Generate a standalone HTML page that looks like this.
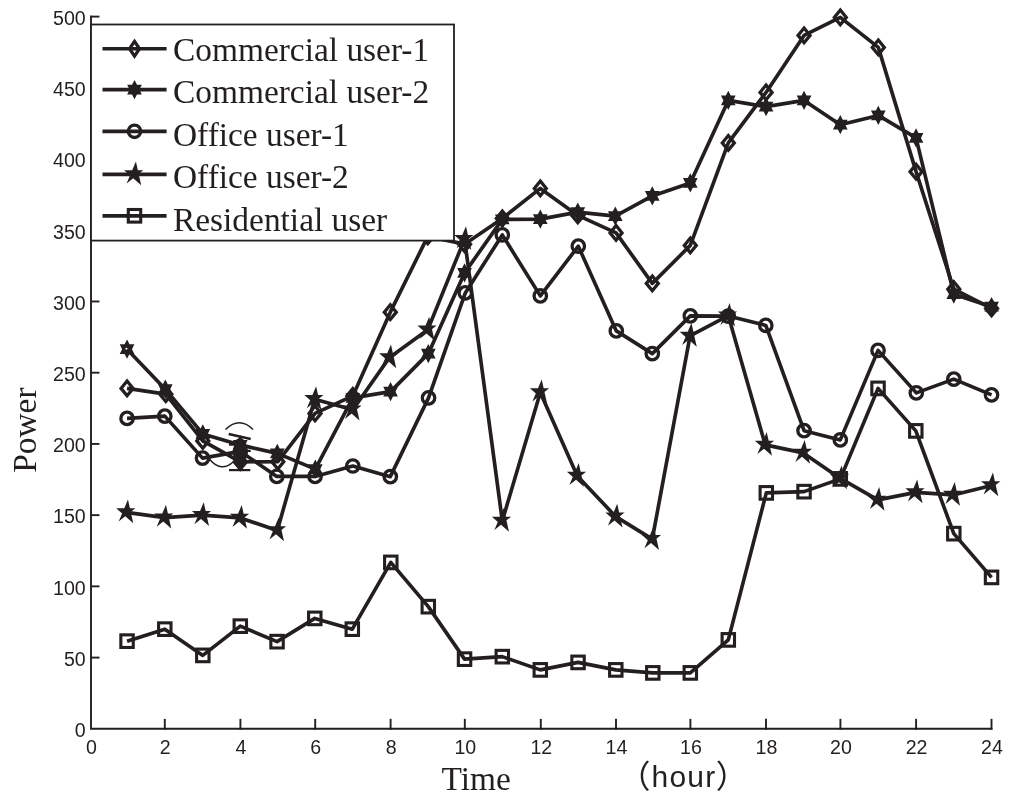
<!DOCTYPE html>
<html lang="en">
<head>
<meta charset="utf-8">
<title>Power vs Time</title>
<style>
html,body{margin:0;padding:0;background:#fff;}
body{width:1024px;height:799px;overflow:hidden;}
svg{display:block;}
</style>
</head>
<body>
<svg width="1024" height="799" viewBox="0 0 1024 799">
<defs><path id="mD" d="M0,-7.35L6,0L0,7.35L-6,0Z" fill="none" stroke="#231f20" stroke-width="3.3" stroke-linejoin="miter"/><path id="mD2" d="M0,-7.35L5,0L0,7.35L-5,0Z" fill="none" stroke="#231f20" stroke-width="3.3" stroke-linejoin="miter"/><path id="mH" d="M0,-9.6L2.46,-4.85L7.32,-4.8L4.93,0L7.32,4.8L2.46,4.85L0,9.6L-2.46,4.85L-7.32,4.8L-4.93,0L-7.32,-4.8L-2.46,-4.85Z" fill="#231f20"/><circle id="mC" r="6.2" fill="none" stroke="#231f20" stroke-width="3.3"/><path id="mS" d="M1.4,-12.8L6.7,10.8L-10.4,-4.2L8.8,-4.2L-7.9,9.2Z" fill="#231f20" fill-rule="nonzero"/><rect id="mQ" x="-6.2" y="-6.3" width="12.4" height="12.6" fill="none" stroke="#231f20" stroke-width="3.1"/></defs>
<rect width="1024" height="799" fill="#fff"/>
<g stroke="#231f20" stroke-width="1.9" fill="none" stroke-linecap="square">
<path d="M91,16.6 V728.8 H991.5"/>
<path d="M164.8,728.8 v-9"/>
<path d="M240.4,728.8 v-9"/>
<path d="M315.2,728.8 v-9"/>
<path d="M390.6,728.8 v-9"/>
<path d="M464.8,728.8 v-9"/>
<path d="M540.8,728.8 v-9"/>
<path d="M616,728.8 v-9"/>
<path d="M690.4,728.8 v-9"/>
<path d="M766,728.8 v-9"/>
<path d="M840.4,728.8 v-9"/>
<path d="M916.1,728.8 v-9"/>
<path d="M991.5,728.8 v-9"/>
<path d="M91,657.58 h7.5"/>
<path d="M91,586.36 h7.5"/>
<path d="M91,515.14 h7.5"/>
<path d="M91,443.92 h7.5"/>
<path d="M91,372.7 h7.5"/>
<path d="M91,301.48 h7.5"/>
<path d="M91,230.26 h7.5"/>
<path d="M91,159.04 h7.5"/>
<path d="M91,87.82 h7.5"/>
<path d="M91,16.6 h7.5"/>
</g>
<g font-family="'Liberation Sans', Arial, sans-serif" font-size="19.6" fill="#231f20">
<text x="91.5" y="753.6" text-anchor="middle">0</text>
<text x="165.3" y="753.6" text-anchor="middle">2</text>
<text x="240.9" y="753.6" text-anchor="middle">4</text>
<text x="315.7" y="753.6" text-anchor="middle">6</text>
<text x="391.1" y="753.6" text-anchor="middle">8</text>
<text x="465.3" y="753.6" text-anchor="middle">10</text>
<text x="541.3" y="753.6" text-anchor="middle">12</text>
<text x="616.5" y="753.6" text-anchor="middle">14</text>
<text x="690.9" y="753.6" text-anchor="middle">16</text>
<text x="766.5" y="753.6" text-anchor="middle">18</text>
<text x="840.9" y="753.6" text-anchor="middle">20</text>
<text x="916.6" y="753.6" text-anchor="middle">22</text>
<text x="992" y="753.6" text-anchor="middle">24</text>
<text x="85.7" y="737.1" text-anchor="end">0</text>
<text x="85.7" y="665.88" text-anchor="end">50</text>
<text x="85.7" y="594.66" text-anchor="end">100</text>
<text x="85.7" y="523.44" text-anchor="end">150</text>
<text x="85.7" y="452.22" text-anchor="end">200</text>
<text x="85.7" y="381" text-anchor="end">250</text>
<text x="85.7" y="309.78" text-anchor="end">300</text>
<text x="85.7" y="238.56" text-anchor="end">350</text>
<text x="85.7" y="167.34" text-anchor="end">400</text>
<text x="85.7" y="96.12" text-anchor="end">450</text>
<text x="85.7" y="24.9" text-anchor="end">500</text>
</g>
<g font-family="'Liberation Serif', 'Times New Roman', serif" font-size="33.4" fill="#231f20">
<text x="441.6" y="790">Time</text>
<text transform="translate(35.6,472.8) rotate(-90)">Power</text>
</g>
<text font-family="'Liberation Sans', 'Noto Sans CJK SC', sans-serif" font-size="30" fill="#231f20"><tspan x="618.6" y="788.4" font-size="32">（</tspan><tspan x="651.6" y="787" letter-spacing="1.2">hour</tspan><tspan x="715.8" y="788.4" font-size="32">）</tspan></text>
<g transform="translate(0.3,0.4)">
<polyline fill="none" stroke="#231f20" stroke-width="3.65" stroke-linejoin="round" points="126.75,388 165.5,393.75 202.5,440.5 240,461.5 277.5,461.25 314.75,413 352.5,395.5 390,311.75 427.5,236 464.25,243.75 502,218 540,188 577.5,215 615.75,232.5 652,283 690,245 728,142.5 765.75,92 803.75,35 840,17 878,47 915.75,171.25 953.5,288.75 991.25,308"/>
<use href="#mD" x="126.75" y="388"/>
<use href="#mD" x="165.5" y="393.75"/>
<use href="#mD" x="202.5" y="440.5"/>
<use href="#mD" x="240" y="461.5"/>
<use href="#mD" x="277.5" y="461.25"/>
<use href="#mD" x="314.75" y="413"/>
<use href="#mD" x="352.5" y="395.5"/>
<use href="#mD" x="390" y="311.75"/>
<use href="#mD" x="427.5" y="236"/>
<use href="#mD" x="464.25" y="243.75"/>
<use href="#mD" x="502" y="218"/>
<use href="#mD" x="540" y="188"/>
<use href="#mD" x="577.5" y="215"/>
<use href="#mD" x="615.75" y="232.5"/>
<use href="#mD" x="652" y="283"/>
<use href="#mD" x="690" y="245"/>
<use href="#mD" x="728" y="142.5"/>
<use href="#mD" x="765.75" y="92"/>
<use href="#mD" x="803.75" y="35"/>
<use href="#mD" x="840" y="17"/>
<use href="#mD" x="878" y="47"/>
<use href="#mD" x="915.75" y="171.25"/>
<use href="#mD" x="953.5" y="288.75"/>
<use href="#mD" x="991.25" y="308"/>
<polyline fill="none" stroke="#231f20" stroke-width="3.65" stroke-linejoin="round" points="126.75,348.75 165,388.75 202.5,433.5 240,444.5 277,453 315,468.75 352.5,397.5 390.25,391.25 428,353.25 464.25,272.5 502,219 540,218.75 577.5,211.75 615,215.75 652,195.5 690,182.5 728,100 765.75,106.25 803.75,100 840,124.25 878,115 915.75,137.5 953.5,293.75 991.25,306.25"/>
<use href="#mH" x="126.75" y="348.75"/>
<use href="#mH" x="165" y="388.75"/>
<use href="#mH" x="202.5" y="433.5"/>
<use href="#mH" x="240" y="444.5"/>
<use href="#mH" x="277" y="453"/>
<use href="#mH" x="315" y="468.75"/>
<use href="#mH" x="352.5" y="397.5"/>
<use href="#mH" x="390.25" y="391.25"/>
<use href="#mH" x="428" y="353.25"/>
<use href="#mH" x="464.25" y="272.5"/>
<use href="#mH" x="502" y="219"/>
<use href="#mH" x="540" y="218.75"/>
<use href="#mH" x="577.5" y="211.75"/>
<use href="#mH" x="615" y="215.75"/>
<use href="#mH" x="652" y="195.5"/>
<use href="#mH" x="690" y="182.5"/>
<use href="#mH" x="728" y="100"/>
<use href="#mH" x="765.75" y="106.25"/>
<use href="#mH" x="803.75" y="100"/>
<use href="#mH" x="840" y="124.25"/>
<use href="#mH" x="878" y="115"/>
<use href="#mH" x="915.75" y="137.5"/>
<use href="#mH" x="953.5" y="293.75"/>
<use href="#mH" x="991.25" y="306.25"/>
<ellipse cx="126.1" cy="348.3" rx="1.1" ry="0.9" fill="#fff"/>
<polyline fill="none" stroke="#231f20" stroke-width="3.65" stroke-linejoin="round" points="126.75,418 164.5,415.75 202.25,457.75 240,451 276.5,476 314.75,476 352.5,465.6 390,476.25 428.25,397.5 465,292.5 502,234.5 540,295.5 578,245.75 616,330.5 652,353.25 690,315.5 728,315.7 765.5,325 803.75,430.25 840,439.5 877.75,350 916,392.5 953.5,378.75 991.25,394.5"/>
<use href="#mC" x="126.75" y="418"/>
<use href="#mC" x="164.5" y="415.75"/>
<use href="#mC" x="202.25" y="457.75"/>
<use href="#mC" x="240" y="451"/>
<use href="#mC" x="276.5" y="476"/>
<use href="#mC" x="314.75" y="476"/>
<use href="#mC" x="352.5" y="465.6"/>
<use href="#mC" x="390" y="476.25"/>
<use href="#mC" x="428.25" y="397.5"/>
<use href="#mC" x="465" y="292.5"/>
<use href="#mC" x="502" y="234.5"/>
<use href="#mC" x="540" y="295.5"/>
<use href="#mC" x="578" y="245.75"/>
<use href="#mC" x="616" y="330.5"/>
<use href="#mC" x="652" y="353.25"/>
<use href="#mC" x="690" y="315.5"/>
<use href="#mC" x="728" y="315.7"/>
<use href="#mC" x="765.5" y="325"/>
<use href="#mC" x="803.75" y="430.25"/>
<use href="#mC" x="840" y="439.5"/>
<use href="#mC" x="877.75" y="350"/>
<use href="#mC" x="916" y="392.5"/>
<use href="#mC" x="953.5" y="378.75"/>
<use href="#mC" x="991.25" y="394.5"/>
<polyline fill="none" stroke="#231f20" stroke-width="3.65" stroke-linejoin="round" points="126.25,512 164.25,517.25 202,514.75 240,517.5 277,530 314.4,398.75 352.5,409.4 389.25,357 427.5,329.25 464.25,238.75 502,520.5 540,392 577,475.5 615.5,516.25 652,538.75 689.75,335.5 728,315.3 765,444.5 803,452.5 840,478 877.5,499.5 915.5,492 953,494.5 991.25,485"/>
<use href="#mS" x="126.25" y="512"/>
<use href="#mS" x="164.25" y="517.25"/>
<use href="#mS" x="202" y="514.75"/>
<use href="#mS" x="240" y="517.5"/>
<use href="#mS" x="277" y="530"/>
<use href="#mS" x="314.4" y="398.75"/>
<use href="#mS" x="352.5" y="409.4"/>
<use href="#mS" x="389.25" y="357"/>
<use href="#mS" x="427.5" y="329.25"/>
<use href="#mS" x="464.25" y="238.75"/>
<use href="#mS" x="502" y="520.5"/>
<use href="#mS" x="540" y="392"/>
<use href="#mS" x="577" y="475.5"/>
<use href="#mS" x="615.5" y="516.25"/>
<use href="#mS" x="652" y="538.75"/>
<use href="#mS" x="689.75" y="335.5"/>
<use href="#mS" x="728" y="315.3"/>
<use href="#mS" x="765" y="444.5"/>
<use href="#mS" x="803" y="452.5"/>
<use href="#mS" x="840" y="478"/>
<use href="#mS" x="877.5" y="499.5"/>
<use href="#mS" x="915.5" y="492"/>
<use href="#mS" x="953" y="494.5"/>
<use href="#mS" x="991.25" y="485"/>
<polyline fill="none" stroke="#231f20" stroke-width="3.65" stroke-linejoin="round" points="126.75,640.75 164.5,628.75 202.5,655 240,625.75 276.75,641.25 314.5,618 352,628.75 390.5,562 428,606.25 464.25,658.75 502,656.25 540,669.5 577.75,662 615.5,669.5 652.5,672.5 690,672.5 728,639.5 766,492.5 803.75,491.25 840,478.5 877.75,388 915.5,430.5 953.5,533.25 991.25,577"/>
<use href="#mQ" x="126.75" y="640.75"/>
<use href="#mQ" x="164.5" y="628.75"/>
<use href="#mQ" x="202.5" y="655"/>
<use href="#mQ" x="240" y="625.75"/>
<use href="#mQ" x="276.75" y="641.25"/>
<use href="#mQ" x="314.5" y="618"/>
<use href="#mQ" x="352" y="628.75"/>
<use href="#mQ" x="390.5" y="562"/>
<use href="#mQ" x="428" y="606.25"/>
<use href="#mQ" x="464.25" y="658.75"/>
<use href="#mQ" x="502" y="656.25"/>
<use href="#mQ" x="540" y="669.5"/>
<use href="#mQ" x="577.75" y="662"/>
<use href="#mQ" x="615.5" y="669.5"/>
<use href="#mQ" x="652.5" y="672.5"/>
<use href="#mQ" x="690" y="672.5"/>
<use href="#mQ" x="728" y="639.5"/>
<use href="#mQ" x="766" y="492.5"/>
<use href="#mQ" x="803.75" y="491.25"/>
<use href="#mQ" x="840" y="478.5"/>
<use href="#mQ" x="877.75" y="388"/>
<use href="#mQ" x="915.5" y="430.5"/>
<use href="#mQ" x="953.5" y="533.25"/>
<use href="#mQ" x="991.25" y="577"/>
</g>
<g fill="none" stroke="#231f20">
<path d="M225.5,429.5 Q239.3,416 253.1,429.5" stroke-width="1.5"/>
<path d="M209.6,459.3 Q221,473 233.4,461.7" stroke-width="1.5"/>
<path d="M228.7,434.1 L250.7,439" stroke-width="2.6"/>
<path d="M229,470.1 H250.3" stroke-width="2.2"/>
<path d="M229,444.7 H235 M245,450.8 H250.7" stroke-width="2.2"/>
<path d="M234,441 L240,437.5 L246,441 L246.3,462 L240,471.5 L233.5,462Z" fill="#231f20" stroke="none"/>
</g>
<rect x="91" y="24.5" width="363" height="216.1" fill="#fff" stroke="#231f20" stroke-width="1.8"/>
<g font-family="'Liberation Serif', 'Times New Roman', serif" font-size="33.4" fill="#231f20">
<path d="M102.5,48.75 H166.6" stroke="#231f20" stroke-width="3.65" fill="none"/>
<use href="#mD2" x="134.5" y="48.75"/>
<text x="173" y="61.2">Commercial user-1</text>
<path d="M102.5,89.6 H166.6" stroke="#231f20" stroke-width="3.65" fill="none"/>
<use href="#mH" x="134.5" y="89.6"/>
<text x="173" y="103.1">Commercial user-2</text>
<path d="M102.5,131.3 H166.6" stroke="#231f20" stroke-width="3.65" fill="none"/>
<use href="#mC" x="134.5" y="131.3"/>
<text x="173" y="145.9">Office user-1</text>
<path d="M102.5,174.4 H166.6" stroke="#231f20" stroke-width="3.65" fill="none"/>
<use href="#mS" x="134.5" y="174.4"/>
<text x="173" y="188.1">Office user-2</text>
<path d="M102.5,215.8 H166.6" stroke="#231f20" stroke-width="3.65" fill="none"/>
<use href="#mQ" x="134.5" y="215.8"/>
<text x="173" y="230.8">Residential user</text>
</g>
</svg>
</body>
</html>
